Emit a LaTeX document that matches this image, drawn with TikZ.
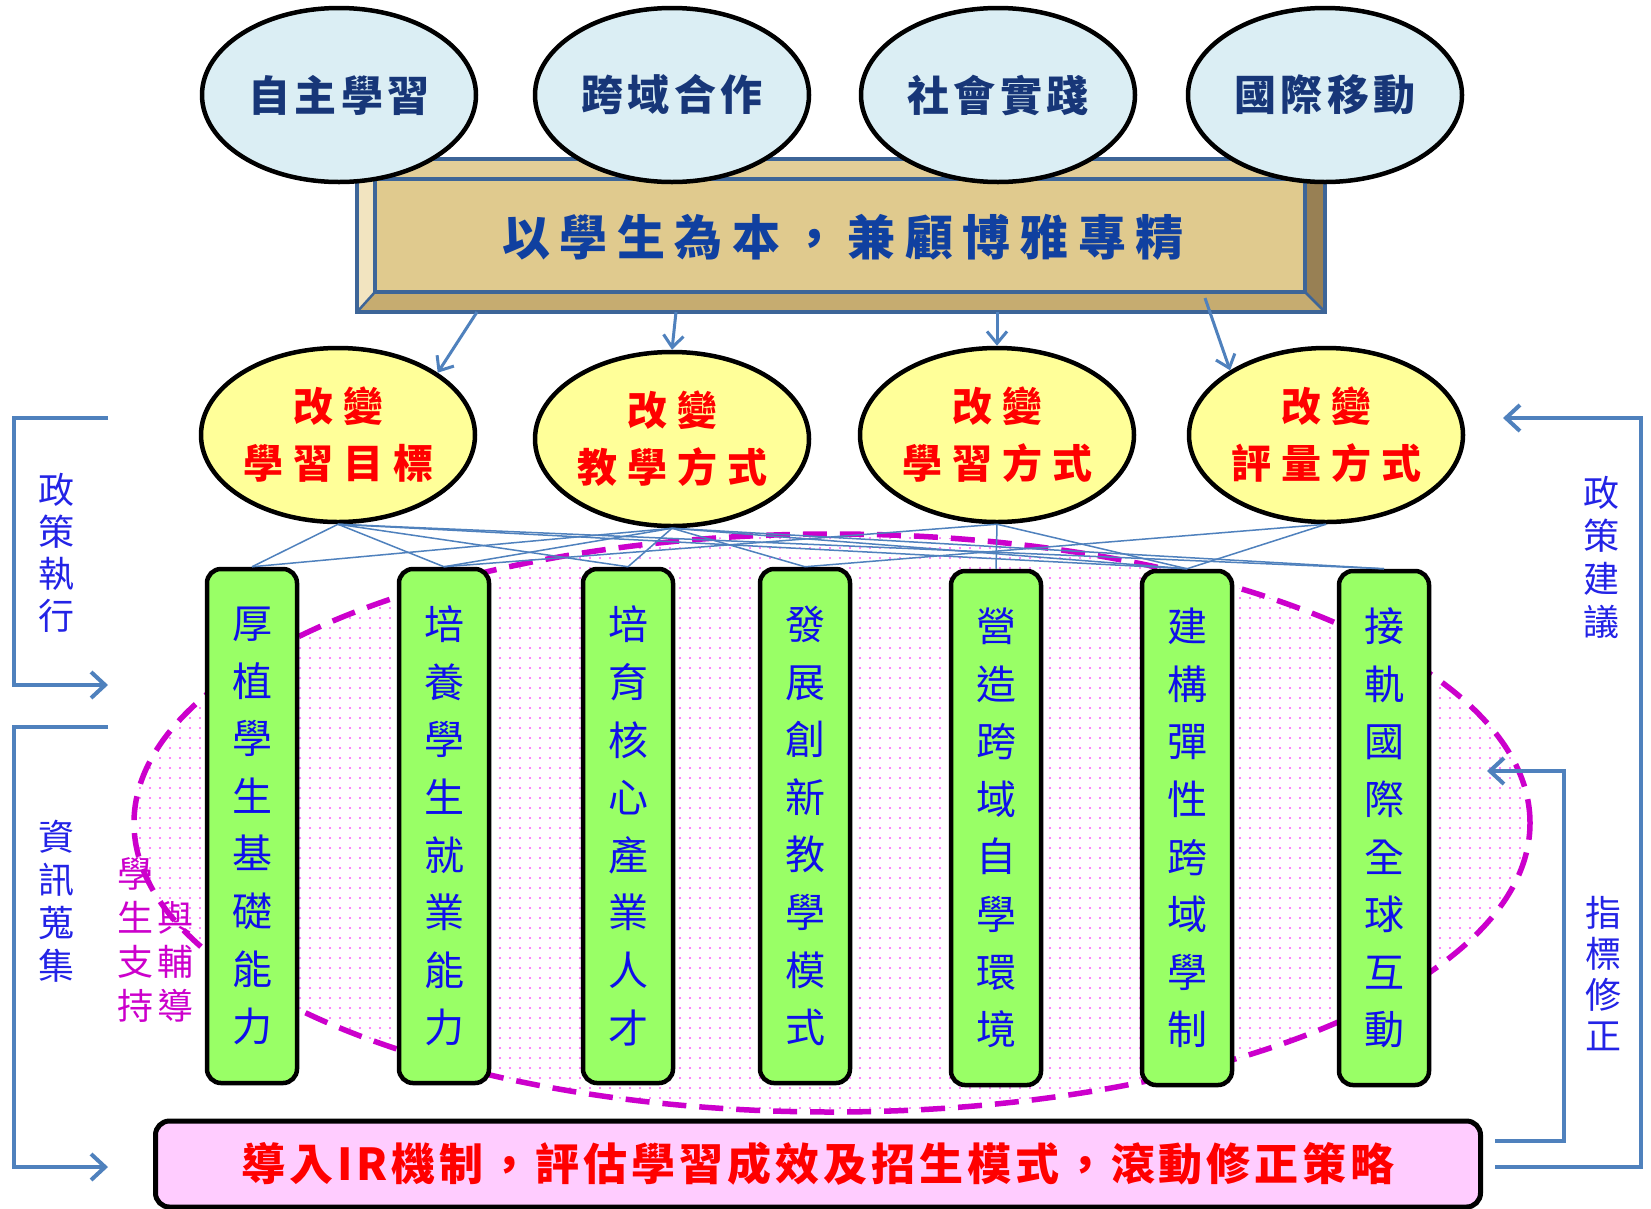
\documentclass[tikz,border=0pt]{standalone}
\usepackage{fontspec}
\setmainfont{Noto Sans CJK TC}
\usetikzlibrary{shapes.geometric,arrows.meta,patterns.meta}
\definecolor{lblue}{RGB}{219,238,244}
\definecolor{cyellow}{RGB}{255,255,153}
\definecolor{cgreen}{RGB}{153,255,102}
\definecolor{cpink}{RGB}{255,204,255}
\definecolor{ablue}{RGB}{79,129,189}
\definecolor{wline}{RGB}{61,101,152}
\definecolor{navy}{RGB}{23,54,120}
\definecolor{tblue}{RGB}{16,64,160}
\definecolor{vblue}{RGB}{15,15,235}
\definecolor{sblue}{RGB}{35,35,230}
\definecolor{cmag}{RGB}{204,0,204}
\definecolor{dotmag}{RGB}{255,0,255}
\definecolor{wtop}{RGB}{226,206,152}
\definecolor{wleft}{RGB}{242,228,192}
\definecolor{wfront}{RGB}{224,202,142}
\definecolor{wbottom}{RGB}{198,172,112}
\definecolor{wright}{RGB}{152,128,84}
\begin{document}
\begin{tikzpicture}[x=1pt,y=-1pt,
 topell/.style={ellipse, draw=black, line width=4.5pt, fill=lblue, minimum width=274pt, minimum height=174pt, inner sep=0pt, text=navy, font=\fontsize{42}{50}\selectfont\bfseries\addfontfeature{LetterSpace=11}},
 chgell/.style={ellipse, draw=black, line width=4.5pt, fill=cyellow, minimum width=274pt, minimum height=174pt, inner sep=0pt, text=red, align=center, font=\fontsize{40}{57}\selectfont\bfseries\addfontfeature{LetterSpace=25}},
 pillar/.style={rectangle, rounded corners=14pt, draw=black, line width=4.5pt, fill=cgreen, minimum width=90pt, minimum height=514pt, inner sep=0pt, text=vblue, align=center, font=\fontsize{40}{57.6}\selectfont},
 sidetxt/.style={text=sblue, align=center, inner sep=0pt},
 magtxt/.style={text=cmag, align=center, inner sep=0pt, font=\fontsize{36}{44}\selectfont},
 conn/.style={draw=ablue, line width=1.5pt},
 downarr/.style={draw=ablue, line width=3pt, -{Straight Barb[length=12pt,width=20pt]}},
 fbarrow/.style={draw=ablue, line width=4pt, -{Straight Barb[length=14pt,width=26pt]}},
]
\fill[white] (0,0) rectangle (1651,1208);
\useasboundingbox (0,0) rectangle (1651,1208);

% dotted dashed region
\fill[white] (832,823) ellipse [x radius=698pt, y radius=289pt];
\fill[pattern={Dots[distance=10pt,radius=0.9pt]}, pattern color=dotmag] (832,823) ellipse [x radius=698pt, y radius=289pt];
\draw[cmag, line width=5.5pt, dash pattern=on 24pt off 13pt] (832,823) ellipse [x radius=698pt, y radius=289pt];

% wood box
\node[minimum width=968pt, minimum height=153pt, inner sep=0pt] (wb) at (841,235.5) {};
\fill[wfront] (357,159) rectangle (1325,312);
\fill[wtop] (357,159) -- (1325,159) -- (1305,179) -- (375,179) -- cycle;
\fill[wleft] (357,159) -- (375,179) -- (375,292) -- (357,312) -- cycle;
\fill[wbottom] (357,312) -- (375,292) -- (1305,292) -- (1325,312) -- cycle;
\fill[wright] (1325,159) -- (1325,312) -- (1305,292) -- (1305,179) -- cycle;
\draw[wline, line width=4pt] (357,159) rectangle (1325,312);
\draw[wline, line width=3.5pt] (375,179) rectangle (1305,292);
\draw[wline, line width=2.5pt] (357,312) -- (375,292) (1325,312) -- (1305,292);
\node[text=tblue, font=\fontsize{48}{56}\selectfont\bfseries\addfontfeature{LetterSpace=20}] (wbt) at (843,237) {以學生為本，兼顧博雅專精};

% top ellipses
\node[topell] (e1) at (339,95) {自主學習};
\node[topell] (e2) at (672,95) {跨域合作};
\node[topell] (e3) at (998,95) {社會實踐};
\node[topell] (e4) at (1325,95) {國際移動};

% change ellipses
\node[chgell] (e5) at (338,435) {改變\\學習目標};
\node[chgell] (e6) at (672,439) {改變\\教學方式};
\node[chgell] (e7) at (997,435) {改變\\學習方式};
\node[chgell] (e8) at (1326,435) {改變\\評量方式};

% arrows from box
\coordinate (a1) at (477,312);
\coordinate (a2) at (676,312);
\coordinate (a3) at (997,312);
\coordinate (a4) at (1205,298);
\draw[downarr] (a1) -- (e5.32);
\draw[downarr] (a2) -- (e6.north);
\draw[downarr] (a3) -- (e7.north);
\draw[downarr] (a4) -- (e8.146);

% pillars
\node[pillar] (g1) at (252,826) {厚\\植\\學\\生\\基\\礎\\能\\力};
\node[pillar] (g2) at (444,826) {培\\養\\學\\生\\就\\業\\能\\力};
\node[pillar] (g3) at (628,826) {培\\育\\核\\心\\產\\業\\人\\才};
\node[pillar] (g4) at (805,826) {發\\展\\創\\新\\教\\學\\模\\式};
\node[pillar] (g5) at (996,828) {營\\造\\跨\\域\\自\\學\\環\\境};
\node[pillar] (g6) at (1187,828) {建\\構\\彈\\性\\跨\\域\\學\\制};
\node[pillar] (g7) at (1384,828) {接\\軌\\國\\際\\全\\球\\互\\動};

% links
\foreach \a/\b in {e5/g1,e5/g2,e5/g3,e5/g6,e5/g7,e6/g1,e6/g2,e6/g3,e6/g4,e6/g6,e6/g7,e7/g2,e7/g5,e7/g6,e8/g4,e8/g6}
  \draw[conn] (\a.south) -- (\b.north);

% bottom box
\node[rectangle, rounded corners=14pt, draw=black, line width=5pt, fill=cpink, minimum width=1325pt, minimum height=86pt, inner sep=0pt, text=red, font=\fontsize{44}{50}\selectfont\bfseries\addfontfeature{LetterSpace=9}] (bb) at (818,1164) {導入IR機制，評估學習成效及招生模式，滾動修正策略};

% feedback brackets
\coordinate (lt1) at (108,418);
\coordinate (lt2) at (108,685);
\coordinate (lb1) at (108,727);
\coordinate (lb2) at (108,1167);
\coordinate (ro1) at (1495,1167);
\coordinate (ro2) at (1503,418);
\coordinate (ri1) at (1495,1141);
\coordinate (ri2) at (1487,771);
\draw[fbarrow] (lt1) -- ++(-94,0) |- (lt2);
\draw[fbarrow] (lb1) -- ++(-94,0) |- (lb2);
\draw[fbarrow] (ro1) -- ++(146,0) |- (ro2);
\draw[fbarrow] (ri1) -- ++(69,0) |- (ri2);

% side texts
\node[sidetxt, font=\fontsize{36}{42}\selectfont] (t1) at (56,553) {政\\策\\執\\行};
\node[sidetxt, font=\fontsize{36}{43}\selectfont] (t2) at (56,901) {資\\訊\\蒐\\集};
\node[sidetxt, font=\fontsize{36}{43}\selectfont] (t3) at (1601,557) {政\\策\\建\\議};
\node[sidetxt, font=\fontsize{36}{41}\selectfont] (t4) at (1603,973) {指\\標\\修\\正};

% student support text
\node[magtxt] (m1) at (135,940) {學\\生\\支\\持};
\node[magtxt] (m2) at (175,962) {與\\輔\\導};
\end{tikzpicture}
\end{document}
